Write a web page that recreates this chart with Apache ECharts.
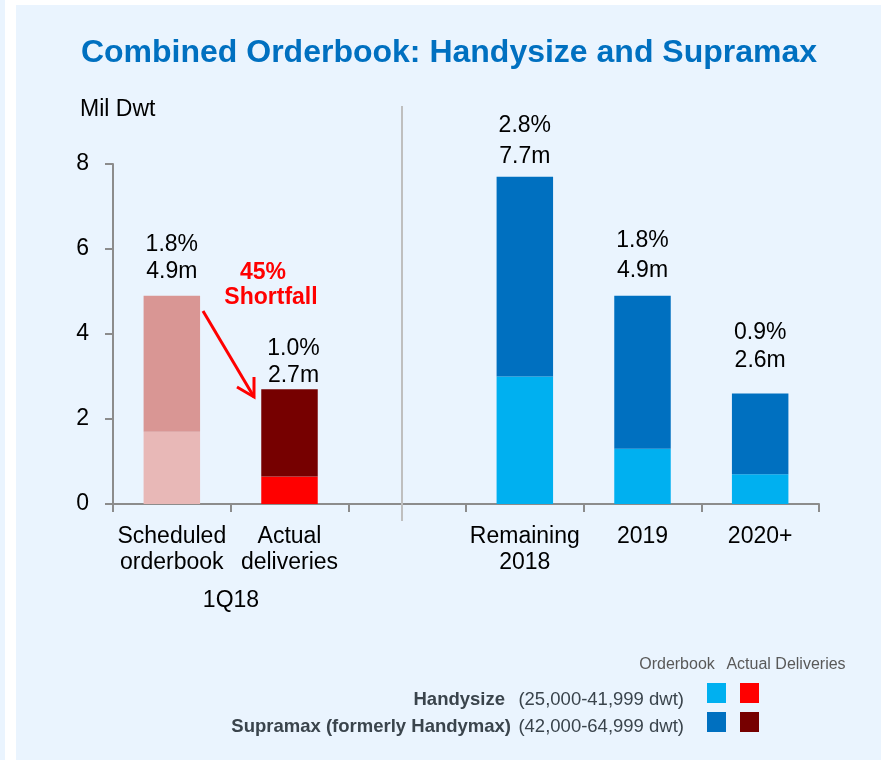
<!DOCTYPE html>
<html><head><meta charset="utf-8">
<script src="https://cdn.jsdelivr.net/npm/echarts@6/dist/echarts.min.js"></script>
<style>html,body{margin:0;padding:0;background:#fff}#c{width:881px;height:760px}</style>
</head><body><div id="c"></div>
<script>
// ---- data ----
const categories = ['Scheduled\norderbook', 'Actual\ndeliveries', '', 'Remaining\n2018', '2019', '2020+'];
const handysize = [1.7, 0.65, null, 3.0, 1.3, 0.7];
const supramax = [3.2, 2.05, null, 4.7, 3.6, 1.9];
const totalLabels = ['4.9m', '2.7m', '', '7.7m', '4.9m', '2.6m'];
const shareLabels = ['1.8%', '1.0%', '', '2.8%', '1.8%', '0.9%'];
const yMin = 0, yMax = 8, yStep = 2;

// ---- styles ----
const FONT = 'Liberation Sans, Arial, sans-serif';
const handyColors = ['#E8B8B7', '#FF0000', null, '#00B0F0', '#00B0F0', '#00B0F0'];
const supraColors = ['#D99694', '#760000', null, '#0070C0', '#0070C0', '#0070C0'];
const labelDist = [11, 0, 0, 5, 10, 19];
const labelDx = [0, 4, 0, 0, 0, 0];
const labelLH = [27, 27, 27, 31, 30, 28];
const BG = '#EAF4FE';

const chart = echarts.init(document.getElementById('c'), null, {renderer: 'canvas'});

const handyData = handysize.map((v, i) => v == null ? '-' : {value: v, itemStyle: {color: handyColors[i]}});
const supraData = supramax.map((v, i) => v == null ? '-' : {
  value: v,
  itemStyle: {color: supraColors[i]},
  label: {
    show: true, position: 'top', distance: labelDist[i], offset: [labelDx[i], 0],
    formatter: shareLabels[i] + '\n' + totalLabels[i],
    color: '#000', fontSize: 23, lineHeight: labelLH[i], fontFamily: FONT
  }
});

const axisGray = '#8C8C8C';

chart.setOption({
  animation: false,
  backgroundColor: '#fff',
  textStyle: {fontFamily: FONT},
  grid: {left: 113, right: 62, top: 164, bottom: 256, containLabel: false},
  xAxis: {
    type: 'category', data: categories,
    axisLine: {lineStyle: {color: axisGray, width: 2}},
    axisTick: {show: true, length: 8, lineStyle: {color: axisGray, width: 2}},
    axisLabel: {color: '#000', fontSize: 23, lineHeight: 26, margin: 20, fontFamily: FONT, interval: 0}
  },
  yAxis: {
    type: 'value', min: yMin, max: yMax, interval: yStep,
    splitLine: {show: false},
    axisLine: {show: true, lineStyle: {color: axisGray, width: 2}},
    axisTick: {show: true, length: 8, lineStyle: {color: axisGray, width: 2}},
    axisLabel: {color: '#000', fontSize: 23, margin: 24, fontFamily: FONT}
  },
  series: [
    {name: 'Handysize', type: 'bar', stack: 'a', barWidth: '48%', data: handyData},
    {name: 'Supramax', type: 'bar', stack: 'a', barWidth: '48%', data: supraData}
  ],
  graphic: [
    {type: 'rect', z: -10, silent: true, shape: {x: 0, y: 0, width: 5, height: 760}, style: {fill: BG}},
    {type: 'rect', z: -10, silent: true, shape: {x: 16, y: 5, width: 865, height: 755}, style: {fill: BG}},
    {type: 'text', x: 449, y: 53, style: {text: 'Combined Orderbook: Handysize and Supramax', fill: '#0070C0',
      font: 'bold 32px ' + FONT, textAlign: 'center', textVerticalAlign: 'middle'}},
    {type: 'text', x: 80, y: 110, style: {text: 'Mil Dwt', fill: '#000', font: '23px ' + FONT, textVerticalAlign: 'middle'}},
    {type: 'text', x: 231, y: 601, style: {text: '1Q18', fill: '#000', font: '23px ' + FONT, textAlign: 'center', textVerticalAlign: 'middle'}},
    {type: 'line', z: 5, shape: {x1: 402, y1: 106, x2: 402, y2: 521}, style: {stroke: '#BFBFBF', lineWidth: 2}},
    {type: 'text', x: 263, y: 273, style: {text: '45%', fill: '#FF0000', font: 'bold 23px ' + FONT,
      textAlign: 'center', textVerticalAlign: 'middle'}},
    {type: 'text', x: 271, y: 298, style: {text: 'Shortfall', fill: '#FF0000', font: 'bold 23px ' + FONT,
      textAlign: 'center', textVerticalAlign: 'middle'}},
    {type: 'polyline', z: 10, shape: {points: [[203, 311], [254, 397]]}, style: {stroke: '#FF0000', lineWidth: 3}},
    {type: 'polyline', z: 10, shape: {points: [[237, 387], [254, 397], [254, 377]]}, style: {stroke: '#FF0000', lineWidth: 3, fill: null}},
    // legend
    {type: 'text', x: 677, y: 665, style: {text: 'Orderbook', fill: '#595959', font: '16px ' + FONT, textAlign: 'center', textVerticalAlign: 'middle'}},
    {type: 'text', x: 786, y: 665, style: {text: 'Actual Deliveries', fill: '#595959', font: '16px ' + FONT, textAlign: 'center', textVerticalAlign: 'middle'}},
    {type: 'text', x: 684, y: 700, style: {text: '(25,000-41,999 dwt)', fill: '#3A444C', font: '18.5px ' + FONT, textAlign: 'right', textVerticalAlign: 'middle'}},
    {type: 'text', x: 505, y: 700, style: {text: 'Handysize', fill: '#3A444C', font: 'bold 18.5px ' + FONT, textAlign: 'right', textVerticalAlign: 'middle'}},
    {type: 'text', x: 684, y: 727, style: {text: '(42,000-64,999 dwt)', fill: '#3A444C', font: '18.5px ' + FONT, textAlign: 'right', textVerticalAlign: 'middle'}},
    {type: 'text', x: 511, y: 727, style: {text: 'Supramax (formerly Handymax)', fill: '#3A444C', font: 'bold 18.5px ' + FONT, textAlign: 'right', textVerticalAlign: 'middle'}},
    {type: 'rect', shape: {x: 707, y: 683, width: 19, height: 20}, style: {fill: '#00B0F0'}},
    {type: 'rect', shape: {x: 740, y: 683, width: 19, height: 20}, style: {fill: '#FF0000'}},
    {type: 'rect', shape: {x: 707, y: 712, width: 19, height: 20}, style: {fill: '#0070C0'}},
    {type: 'rect', shape: {x: 740, y: 712, width: 19, height: 20}, style: {fill: '#760000'}}
  ]
});
</script></body></html>
